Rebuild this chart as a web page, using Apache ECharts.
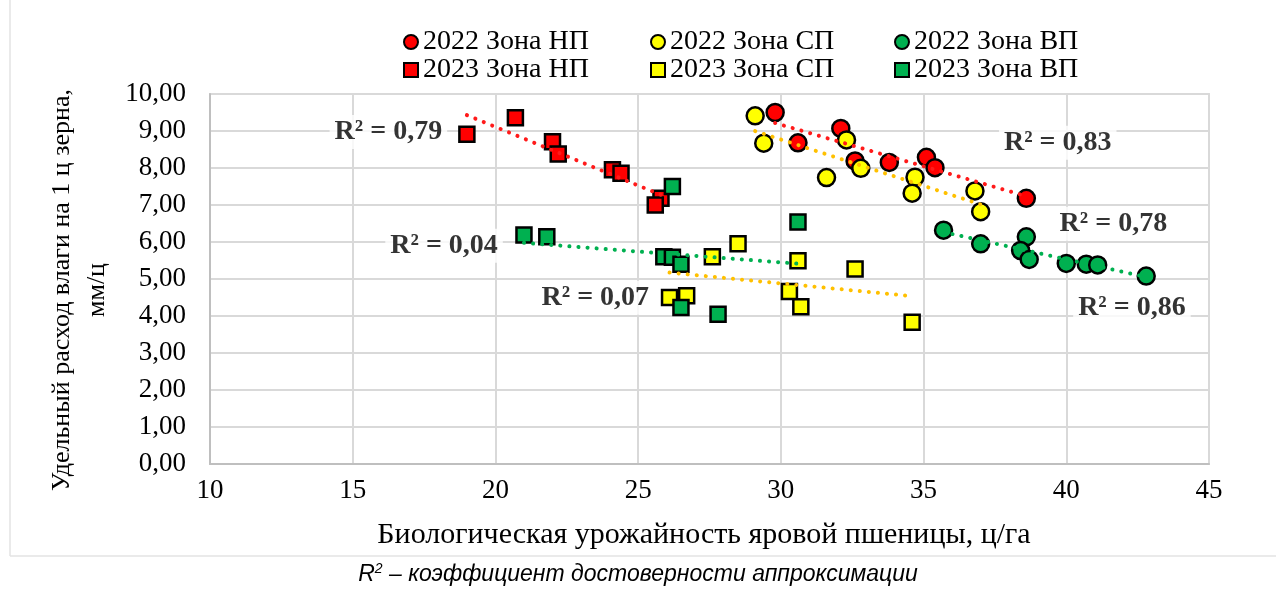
<!DOCTYPE html>
<html><head><meta charset="utf-8">
<script src="https://cdn.jsdelivr.net/npm/echarts@6/dist/echarts.min.js"></script>
<style>html,body{margin:0;padding:0;background:#fff}#c{width:1276px;height:592px}</style>
</head><body><div id="c"></div>
<script>
// ---------- data ----------
const seriesNames = ['2022 Зона НП','2022 Зона СП','2022 Зона ВП','2023 Зона НП','2023 Зона СП','2023 Зона ВП'];
const zone2022NP = [[29.8,9.50],[30.6,8.68],[32.1,9.07],[32.6,8.19],[33.8,8.15],[35.1,8.29],[35.4,8.01],[38.6,7.18]];
const zone2022SP = [[29.1,9.41],[29.4,8.67],[31.6,7.74],[32.3,8.76],[32.8,7.99],[34.7,7.75],[34.6,7.32],[36.8,7.38],[37.0,6.82]];
const zone2022VP = [[35.7,6.32],[37.0,5.95],[38.6,6.14],[38.4,5.77],[38.7,5.53],[40.0,5.42],[40.7,5.40],[41.1,5.38],[42.8,5.08]];
const zone2023NP = [[19.0,8.91],[20.7,9.36],[22.0,8.71],[22.2,8.38],[24.1,7.95],[24.4,7.86],[25.8,7.18],[25.6,7.00]];
const zone2023SP = [[26.1,4.50],[26.7,4.55],[27.6,5.60],[28.5,5.95],[30.6,5.49],[30.3,4.66],[30.7,4.25],[32.6,5.27],[34.6,3.83]];
const zone2023VP = [[21.0,6.19],[21.8,6.14],[25.9,5.60],[26.2,5.59],[26.5,5.40],[26.2,7.50],[30.6,6.54],[26.5,4.23],[27.8,4.05]];
const r2Values = ['0,83','0,78','0,86','0,79','0,07','0,04'];
const xTitle = 'Биологическая урожайность яровой пшеницы, ц/га';
const yTitle = 'Удельный расход влаги на 1 ц зерна,\nмм/ц';
const captionRest = ' – коэффициент достоверности аппроксимации';

// ---------- layout / style ----------
const allData = [zone2022NP, zone2022SP, zone2022VP, zone2023NP, zone2023SP, zone2023VP];
const colors = ['#FF0000','#FFFF00','#00B050','#FF0000','#FFFF00','#00B050'];
const trendColors = ['#FF1A1A','#FFC000','#00B050','#FF1A1A','#FFC000','#00B050'];
const symbols = ['circle','circle','circle','rect','rect','rect'];
const r2Anchor = [[39.7,8.68],[41.65,6.49],[42.3,4.22],[16.25,8.97],[23.5,4.49],[18.2,5.9]];
const legendPos = [[398,23],[645,23],[889,23],[398,51],[645,51],[889,51]];
const SERIF = '"Liberation Serif","Times New Roman",serif';

function linFit(pts){
  const n = pts.length;
  let sx=0, sy=0; pts.forEach(p=>{sx+=p[0]; sy+=p[1];});
  const mx=sx/n, my=sy/n;
  let sxy=0, sxx=0; pts.forEach(p=>{sxy+=(p[0]-mx)*(p[1]-my); sxx+=(p[0]-mx)*(p[0]-mx);});
  const b=sxy/sxx, a=my-b*mx;
  const xs=pts.map(p=>p[0]); const x0=Math.min(...xs), x1=Math.max(...xs);
  return [[x0,a+b*x0],[x1,a+b*x1]];
}

const series = [];
allData.forEach((d,i)=>{
  series.push({
    name: seriesNames[i], type:'scatter', data:d, symbol:symbols[i],
    symbolSize: symbols[i]==='circle'?17:15, z:3+i,
    itemStyle:{color:colors[i], borderColor:'#000', borderWidth:2.5, opacity:1}
  });
});
allData.forEach((d,i)=>{
  series.push({
    name:'trend'+i, type:'line', data:linFit(d), symbol:'none', z:10, silent:true,
    lineStyle:{color:trendColors[i], width:4, type:[0.1,9], cap:'round'}
  });
});
series.push({
  name:'r2', type:'scatter', symbolSize:0, z:2, silent:true,
  data: r2Anchor.map((p,i)=>({value:p, name:'R² = '+r2Values[i]})),
  label:{show:true, position:'inside', formatter:p=>p.name, fontFamily:SERIF, fontWeight:'bold',
    fontSize:28, color:'#000', backgroundColor:'#fff', padding:[3,5]}
});

const legends = seriesNames.map((n,i)=>({
  data:[{name:n, icon:symbols[i]}], left:legendPos[i][0], top:legendPos[i][1],
  itemWidth:14, itemHeight:14, itemGap:0, selectedMode:false,
  textStyle:{fontFamily:SERIF, fontSize:28, color:'#000'}
}));

const chart = echarts.init(document.getElementById('c'), null, {renderer:'canvas'});
chart.setOption({
  animation:false, backgroundColor:'#fff',
  grid:{left:210, top:94, right:67, bottom:128, show:true, borderColor:'#bfbfbf', borderWidth:1.5},
  legend: legends,
  xAxis:{type:'value', min:10, max:45, interval:5,
    axisLine:{show:true, lineStyle:{color:'#bfbfbf', width:2}}, axisTick:{show:false},
    splitLine:{show:true, lineStyle:{color:'#d9d9d9', width:2}},
    axisLabel:{fontFamily:SERIF, fontSize:27, color:'#000', margin:13}},
  yAxis:{type:'value', min:0, max:10, interval:1,
    axisLine:{show:true, lineStyle:{color:'#bfbfbf', width:2}}, axisTick:{show:false},
    splitLine:{show:true, lineStyle:{color:'#d9d9d9', width:2}},
    axisLabel:{fontFamily:SERIF, fontSize:27, color:'#000', margin:24,
      formatter:v=>v.toFixed(2).replace('.',',')}},
  graphic:[
    {type:'text', x:80, y:290, rotation:Math.PI/2,
      style:{text:yTitle, fontFamily:SERIF, fontSize:26, lineHeight:35, fill:'#000', align:'center', verticalAlign:'middle'}},
    {type:'text', x:704, y:535,
      style:{text:xTitle, fontFamily:SERIF, fontSize:30, fill:'#000', align:'center', verticalAlign:'middle'}},
    {type:'text', x:638, y:575,
      style:{text:'{i|R}{s|2}{i|'+captionRest+'}', align:'center', verticalAlign:'middle',
        rich:{i:{fontFamily:'"Liberation Sans Narrow","Liberation Sans",Arial,sans-serif', fontStyle:'italic', fontSize:23, fill:'#000', lineHeight:26},
              s:{fontFamily:'"Liberation Sans Narrow","Liberation Sans",Arial,sans-serif', fontStyle:'italic', fontSize:14, fill:'#000', verticalAlign:'top', lineHeight:26}}}},
    {type:'line', shape:{x1:10,y1:0,x2:10,y2:556}, style:{stroke:'#e3e3e3', lineWidth:1.5}},
    {type:'line', shape:{x1:10,y1:556,x2:1276,y2:556}, style:{stroke:'#e3e3e3', lineWidth:1.5}}
  ],
  series: series
});
</script></body></html>
